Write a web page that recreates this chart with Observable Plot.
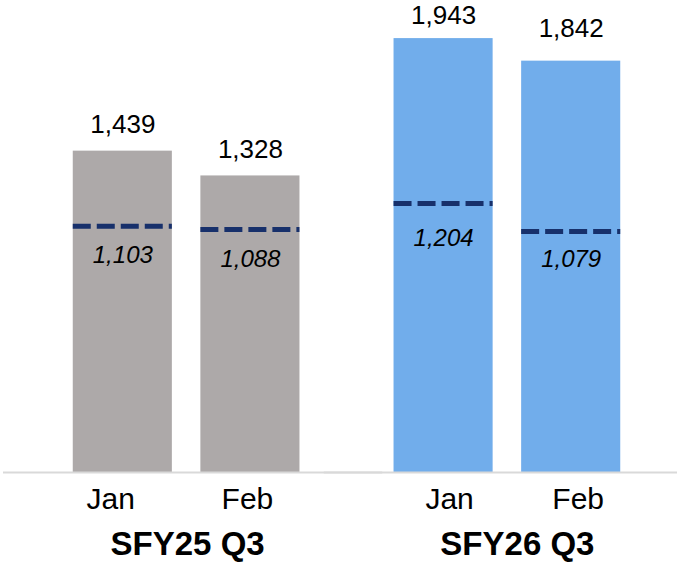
<!DOCTYPE html>
<html>
<head>
<meta charset="utf-8">
<script src="https://cdn.jsdelivr.net/npm/d3@7"></script>
<script src="https://cdn.jsdelivr.net/npm/@observablehq/plot@0.6"></script>
<style>
  html, body { margin: 0; padding: 0; background: #ffffff; }
  #chart svg { display: block; overflow: visible; }
</style>
</head>
<body>
<div id="chart"></div>
<script>
const groups = ["SFY25 Q3", "SFY25 Q3", "SFY26 Q3", "SFY26 Q3"];
const months = ["Jan", "Feb", "Jan", "Feb"];
const totals = [1439, 1328, 1943, 1842];
const dashedValues = [1103, 1088, 1204, 1079];
const groupLabels = ["SFY25 Q3", "SFY26 Q3"];
const monthOrder = ["Jan", "Feb"];
const groupColors = ["#ADA9A9", "#71ADEB"];

const rows = groups.map((g, i) => ({
  idx: i, group: g, month: months[i], total: totals[i], dashed: dashedValues[i]
}));
const groupRows = groupLabels.map((g, i) => ({idx: i, group: g}));
const fmt = d3.format(",");
const font = "'Liberation Sans', Arial, sans-serif";

// label placement offsets (styling, per bar / per group)
const totalDy = [-26, -26, -23, -32];
const dashedDy = [29, 30, 35, 28];
const monthDx = [-12, -3, 6, 7];
const groupDx = [1, 10];

const perItem = (data, offsets, key, make) =>
  offsets.map((o, i) => make(data.filter(d => d.idx === i), {[key]: o}));

const chart = Plot.plot({
  width: 677,
  height: 565,
  marginTop: 20,
  marginBottom: 93,
  marginLeft: 60,
  marginRight: 44,
  style: {fontFamily: font, color: "#000", background: "#fff"},
  fx: {domain: groupLabels, paddingInner: 0.2137, paddingOuter: 0, round: false, axis: null},
  x: {domain: monthOrder, paddingInner: 0.2235, paddingOuter: 0.1, round: false, axis: null},
  y: {domain: [0, 2024], axis: null},
  color: {domain: groupLabels, range: groupColors},
  marks: [
    Plot.barY(rows, {fx: "group", x: "month", y: "total", fill: "group"}),
    Plot.ruleY([0], {stroke: "#D9D9D9", strokeWidth: 2, insetLeft: -57, insetRight: -70}),
    Plot.tickY(rows, {fx: "group", x: "month", y: "dashed", stroke: "#17306B", strokeWidth: 5, strokeDasharray: "18,6"}),
    ...perItem(rows, totalDy, "dy", (data, o) =>
      Plot.text(data, {fx: "group", x: "month", y: "total", text: d => fmt(d.total), lineAnchor: "middle", fontSize: 26, fill: "#000", ...o})),
    ...perItem(rows, dashedDy, "dy", (data, o) =>
      Plot.text(data, {fx: "group", x: "month", y: "dashed", text: d => fmt(d.dashed), lineAnchor: "middle", fontSize: 24, fontStyle: "italic", fill: "#000", ...o})),
    ...perItem(rows, monthDx, "dx", (data, o) =>
      Plot.text(data, {fx: "group", x: "month", text: "month", frameAnchor: "bottom", dy: 27, lineAnchor: "middle", fontSize: 30, fill: "#000", ...o})),
    ...perItem(groupRows, groupDx, "dx", (data, o) =>
      Plot.text(data, {fx: "group", text: "group", frameAnchor: "bottom", dy: 72, lineAnchor: "middle", fontSize: 33, fontWeight: "bold", fill: "#000", ...o}))
  ]
});
document.getElementById("chart").appendChild(chart);
</script>
</body>
</html>
